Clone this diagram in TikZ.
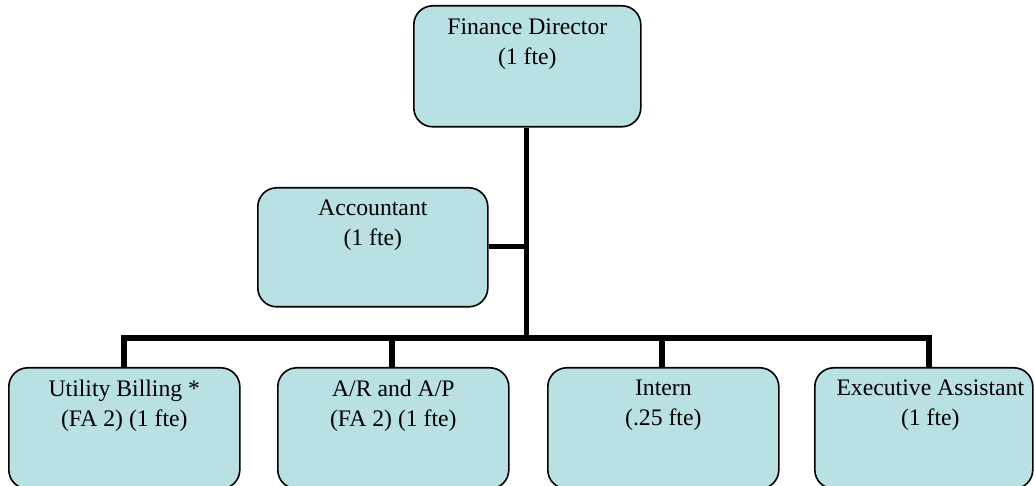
\documentclass[tikz,border=0pt]{standalone}
\usepackage{fontspec}
\setmainfont{Liberation Serif}
\definecolor{boxfill}{RGB}{185,224,227}
\begin{document}
\begin{tikzpicture}[x=1pt,y=-1pt,
  orgbox/.style={draw=black, fill=boxfill, line width=1.6pt, rounded corners=19pt,
    anchor=north west, inner sep=0pt, minimum height=121pt},
  boxtext/.style={anchor=north, inner sep=0pt, align=center,
    font=\fontsize{23.7pt}{30pt}\selectfont},
  link/.style={draw=black, line width=5.5pt}]
\useasboundingbox (0,0) rectangle (1034,486);
\begin{scope}
\clip (0,0) rectangle (1034,486);
% boxes
\node[orgbox, minimum width=227pt] (fd) at (413,5) {};
\node[orgbox, minimum width=230pt, minimum height=119pt] (acc) at (257,187) {};
\node[orgbox, minimum width=231pt] (ub) at (8,367) {};
\node[orgbox, minimum width=231pt] (arap) at (277,367) {};
\node[orgbox, minimum width=231pt] (int) at (547,367) {};
\node[orgbox, minimum width=218pt] (ea) at (814,367) {};
% texts
\node[boxtext] (fdt) at ([yshift=-14pt]fd.north) {Finance Director\\(1 fte)};
\node[boxtext] (acct) at ([yshift=-13pt]acc.north) {Accountant\\(1 fte)};
\node[boxtext] (ubt) at ([yshift=-13pt]ub.north) {Utility Billing *\\(FA 2) (1 fte)};
\node[boxtext] (arapt) at ([yshift=-13pt]arap.north) {A/R and A/P\\(FA 2) (1 fte)};
\node[boxtext] (intt) at ([yshift=-13pt]int.north) {Intern\\(.25 fte)};
\node[boxtext] (eat) at ([xshift=6.5pt,yshift=-13pt]ea.north) {Executive Assistant\\(1 fte)};
% connectors
\coordinate (bus) at (526.5,338);
\coordinate (accj) at (526.5,246.5);
\draw[link] (fd.south -| bus) -- (bus);
\draw[link] (acc.east |- accj) -- ([xshift=2.75pt]accj);
\draw[link, line cap=rect] (124,338) -- (929,338);
\draw[link] (124,338) -- (124,367);
\draw[link] (392,338) -- (392,367);
\draw[link] (662,338) -- (662,367);
\draw[link] (929,338) -- (929,367);
% redraw boxes' top edges over connectors
\end{scope}
\end{tikzpicture}
\end{document}
